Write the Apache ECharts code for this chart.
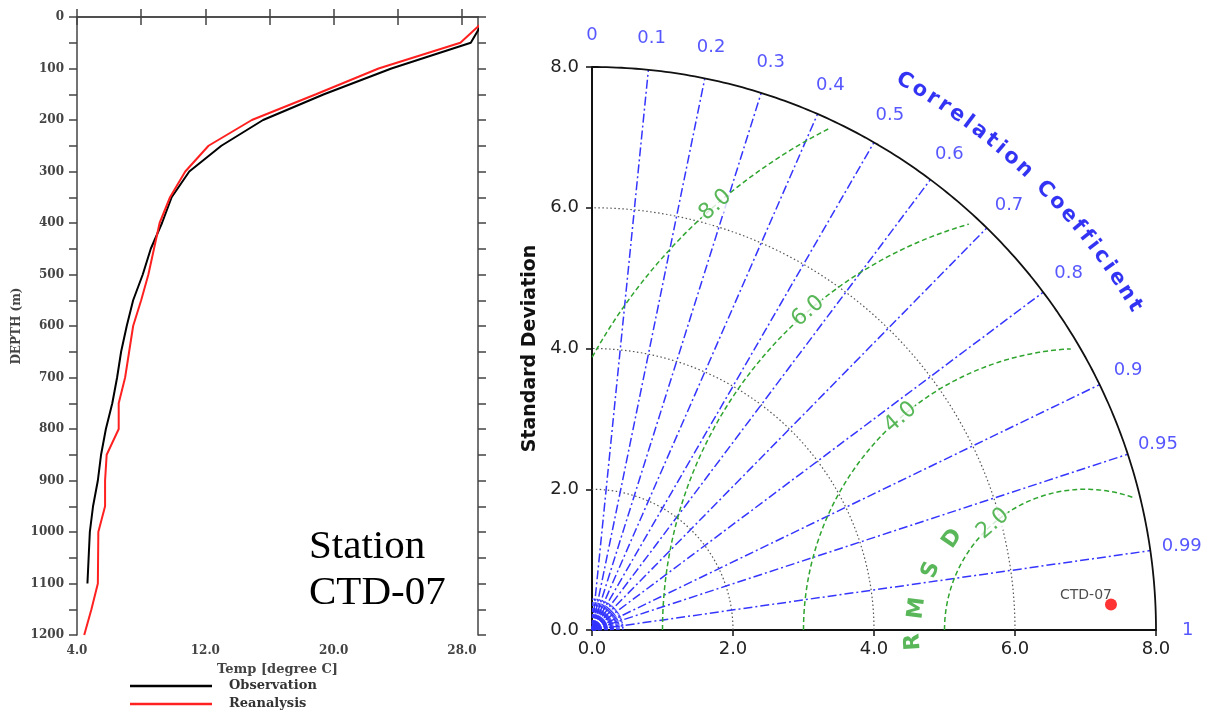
<!DOCTYPE html>
<html>
<head>
<meta charset="utf-8">
<title>Station CTD-07</title>
<script src="https://cdn.jsdelivr.net/npm/echarts@6/dist/echarts.min.js"></script>
<style>html,body{margin:0;padding:0;background:#fff}#main{width:1216px;height:716px}</style>
</head>
<body>
<div id="main"></div>
<script>
// temperature profile, depth in m, temp in degree C
var obsDepth = [10, 50, 100, 150, 200, 250, 300, 350, 400, 450, 500, 550, 600, 650, 700, 750, 800, 850, 900, 950, 1000, 1100];
var obsTemp  = [29.3, 28.55, 23.6, 19.4, 15.6, 13.0, 11.0, 9.9, 9.3, 8.6, 8.1, 7.5, 7.1, 6.75, 6.5, 6.2, 5.8, 5.5, 5.3, 5.0, 4.8, 4.65];
var reaDepth = [10, 50, 100, 150, 200, 250, 300, 350, 400, 450, 500, 550, 600, 650, 700, 750, 800, 850, 900, 950, 1000, 1100, 1150, 1200];
var reaTemp  = [29.3, 27.9, 22.8, 18.9, 14.9, 12.2, 10.75, 9.8, 9.15, 8.8, 8.45, 8.0, 7.5, 7.25, 7.0, 6.6, 6.6, 5.85, 5.75, 5.75, 5.33, 5.3, 4.9, 4.45];

var tempTicks = [4, 8, 12, 16, 20, 24, 28];
var tempLabels = [4, 12, 20, 28];
var depthLabels = [0, 100, 200, 300, 400, 500, 600, 700, 800, 900, 1000, 1100, 1200];

// taylor diagram
var corrTicks = [0, 0.1, 0.2, 0.3, 0.4, 0.5, 0.6, 0.7, 0.8, 0.9, 0.95, 0.99, 1];
var stdArcs = [2, 4, 6];
var stdMax = 8;
var refStd = 7.0;
var rmsdLevels = [2, 4, 6, 8];
var caseNames = ['CTD-07'];
var caseStd = [7.37];
var caseCorr = [0.9988];

var D2R = Math.PI / 180;
function polar(r, deg) { return [r * Math.cos(deg * D2R), r * Math.sin(deg * D2R)]; }
function pairs(a, b) { return a.map(function (v, i) { return [v, b[i]]; }); }

var serif = 'DejaVu Serif';
var sans = 'DejaVu Sans';
var blue = '#3535ff';
var green = '#2fa52f';

var series = [];

// left panel lines
series.push({
  name: 'Observation', type: 'line', xAxisIndex: 0, yAxisIndex: 0,
  data: pairs(obsTemp, obsDepth), showSymbol: false, symbol: 'none',
  lineStyle: { color: '#000', width: 2 }, itemStyle: { color: '#000' }
});
series.push({
  name: 'Reanalysis', type: 'line', xAxisIndex: 0, yAxisIndex: 0,
  data: pairs(reaTemp, reaDepth), showSymbol: false, symbol: 'none',
  lineStyle: { color: '#ff2020', width: 2 }, itemStyle: { color: '#ff2020' }
});

function tLine(data, style, z) {
  series.push({
    type: 'line', xAxisIndex: 2, yAxisIndex: 2, data: data, symbol: 'none',
    lineStyle: style, z: z || 2, silent: true, clip: false
  });
}

// std dev dotted arcs
stdArcs.forEach(function (r) {
  var pts = [];
  for (var a = 0; a <= 90; a += 1) pts.push(polar(r, a));
  tLine(pts, { color: '#555', width: 1.2, type: [1.5, 2.5] });
});
// outer arc
(function () {
  var pts = [];
  for (var a = 0; a <= 90; a += 0.5) pts.push(polar(stdMax, a));
  tLine(pts, { color: '#111', width: 1.8 }, 5);
})();

// correlation rays
corrTicks.forEach(function (c) {
  if (c <= 0 || c >= 1) return;
  var a = Math.acos(c) / D2R;
  tLine([[0, 0], polar(stdMax, a)], { color: blue, width: 1.5, type: [9, 3, 2, 3] }, 3);
});
// dense short rays near the origin
for (var ang = 1.5; ang < 90; ang += 3) {
  tLine([[0, 0], polar(0.45, ang)], { color: blue, width: 1.2, type: [4, 2] }, 3);
}

// rmsd arcs around the reference
rmsdLevels.forEach(function (r) {
  var pts = [];
  for (var a = 180; a >= 0; a -= 0.5) {
    var p = [refStd + r * Math.cos(a * D2R), r * Math.sin(a * D2R)];
    if (p[0] >= 0 && Math.hypot(p[0], p[1]) <= 7.9) pts.push(p);
  }
  tLine(pts, { color: green, width: 1.5, type: [5, 3] }, 4);
});

function textSeries(items, font, z) {
  series.push({
    type: 'scatter', xAxisIndex: 2, yAxisIndex: 2, symbolSize: 1, clip: false, silent: true,
    itemStyle: { color: 'transparent' }, z: z || 10,
    label: Object.assign({ show: true, position: 'inside', formatter: '{b}' }, font),
    data: items
  });
}

// rmsd level labels
textSeries(rmsdLevels.map(function (r) {
  var a = 131;
  return { name: r.toFixed(1), value: [refStd + r * Math.cos(a * D2R), r * Math.sin(a * D2R)], label: { rotate: a - 90 } };
}), { color: green, fontSize: 22, fontFamily: sans, backgroundColor: '#fff', padding: [0, 1] });

// R M S D letters
var rmsdAng = [184, 172.6, 158.7, 145.5];
var rmsdRad = [2.45, 2.41, 2.35, 2.29];
textSeries('RMSD'.split('').map(function (ch, i) {
  var a = rmsdAng[i];
  return { name: ch, value: [refStd + rmsdRad[i] * Math.cos(a * D2R), rmsdRad[i] * Math.sin(a * D2R)], label: { rotate: a - 90 } };
}), { color: green, fontSize: 22, fontWeight: 'bold', fontFamily: sans });

// correlation tick labels
textSeries(corrTicks.map(function (c) {
  return { name: String(c), value: polar(8.45, Math.acos(c) / D2R) };
}), { color: '#2d2dff', fontSize: 18, fontFamily: sans });

// "Correlation Coefficient" along the arc
(function () {
  var txt = 'Correlation Coefficient';
  var ctx = document.createElement('canvas').getContext('2d');
  ctx.font = 'bold 21px "DejaVu Sans"';
  var pos = [], acc = 0;
  for (var i = 0; i < txt.length; i++) {
    var w = ctx.measureText(txt[i]).width;
    pos.push(acc + w / 2);
    acc += w + 5;
  }
  var span = pos[pos.length - 1] - pos[0];
  var items = [];
  for (var j = 0; j < txt.length; j++) {
    if (txt[j] === ' ') continue;
    var a = 60.4 - (pos[j] - pos[0]) / span * 29.5;
    items.push({ name: txt[j], value: polar(8.97, a), label: { rotate: a - 90 } });
  }
  textSeries(items, { color: '#0000f0', fontSize: 21, fontWeight: 'bold', fontFamily: sans });
})();

// case point
series.push({
  type: 'scatter', xAxisIndex: 2, yAxisIndex: 2, symbolSize: 12, z: 20, clip: false,
  itemStyle: { color: '#ff0000' },
  label: { show: true, position: 'left', offset: [12, -9], formatter: '{b}', color: '#222', fontSize: 14, fontFamily: sans },
  data: caseNames.map(function (n, i) {
    var a = Math.acos(caseCorr[i]) / D2R;
    return { name: n, value: polar(caseStd[i], a) };
  })
});

var frame = { lineStyle: { color: '#444', width: 1.5 } };
var tick8 = { show: true, inside: false, length: 8, lineStyle: { color: '#444', width: 1.5 } };
var lblL = { fontFamily: serif, fontWeight: 'bold', fontSize: 12, color: '#444' };

var chart = echarts.init(document.getElementById('main'));
chart.setOption({
  animation: false,
  backgroundColor: '#fff',
  grid: [
    { left: 77, top: 17, width: 401, height: 618 },
    { left: 592, top: 67, width: 564, height: 563 }
  ],
  xAxis: [
    {
      gridIndex: 0, type: 'value', position: 'bottom', min: 4, max: 29,
      axisLine: frame, splitLine: { show: false },
      axisTick: Object.assign({ customValues: tempTicks }, tick8),
      axisLabel: Object.assign({ customValues: tempLabels, margin: 10, formatter: function (v) { return v.toFixed(1); } }, lblL),
      name: 'Temp [degree C]', nameLocation: 'middle', nameGap: 28,
      nameTextStyle: { fontFamily: serif, fontWeight: 'bold', fontSize: 13, color: '#444' }
    },
    {
      gridIndex: 0, type: 'value', position: 'top', min: 4, max: 29,
      axisLine: frame, splitLine: { show: false },
      axisTick: Object.assign({ customValues: tempTicks }, tick8),
      axisLabel: { show: false }
    },
    {
      gridIndex: 1, type: 'value', min: 0, max: 8, interval: 2,
      axisLine: { lineStyle: { color: '#111', width: 2 } }, splitLine: { show: false },
      axisTick: { inside: false, length: 6, lineStyle: { color: '#111', width: 1.5 } },
      axisLabel: { margin: 10, fontSize: 18, fontFamily: sans, color: '#222', formatter: function (v) { return v.toFixed(1); } }
    }
  ],
  yAxis: [
    {
      gridIndex: 0, type: 'value', position: 'left', inverse: true, min: 0, max: 1200, interval: 50,
      axisLine: frame, splitLine: { show: false }, axisTick: tick8,
      axisLabel: Object.assign({ customValues: depthLabels, margin: 13, formatter: function (v) { return String(v); } }, lblL),
      name: 'DEPTH (m)', nameLocation: 'middle', nameGap: 54, nameRotate: 90,
      nameTextStyle: { fontFamily: serif, fontWeight: 'bold', fontSize: 12, color: '#444' }
    },
    {
      gridIndex: 0, type: 'value', position: 'right', inverse: true, min: 0, max: 1200, interval: 50,
      axisLine: frame, splitLine: { show: false }, axisTick: tick8,
      axisLabel: { show: false }
    },
    {
      gridIndex: 1, type: 'value', min: 0, max: 8, interval: 2,
      axisLine: { lineStyle: { color: '#111', width: 2 } }, splitLine: { show: false },
      axisTick: { inside: false, length: 6, lineStyle: { color: '#111', width: 1.5 } },
      axisLabel: { margin: 13, fontSize: 18, fontFamily: sans, color: '#222', formatter: function (v) { return v.toFixed(1); } },
      name: 'Standard Deviation', nameLocation: 'middle', nameGap: 52, nameRotate: 90,
      nameTextStyle: { fontFamily: sans, fontWeight: 'bold', fontSize: 19, color: '#111' }
    }
  ],
  legend: {
    data: ['Observation', 'Reanalysis'], orient: 'vertical', left: 130, top: 679, padding: 0,
    itemWidth: 82, itemHeight: 2.5, itemGap: 4, icon: 'rect',
    textStyle: { fontFamily: serif, fontWeight: 'bold', fontSize: 13, color: '#333', lineHeight: 14, padding: [0, 0, 0, 12] }
  },
  graphic: [
    { type: 'text', left: 309, top: 527, style: { text: 'Station', font: '41px "Liberation Serif"', fill: '#000' } },
    { type: 'text', left: 309, top: 573, style: { text: 'CTD-07', font: '41px "Liberation Serif"', fill: '#000' } }
  ],
  series: series
});
</script>
</body>
</html>
